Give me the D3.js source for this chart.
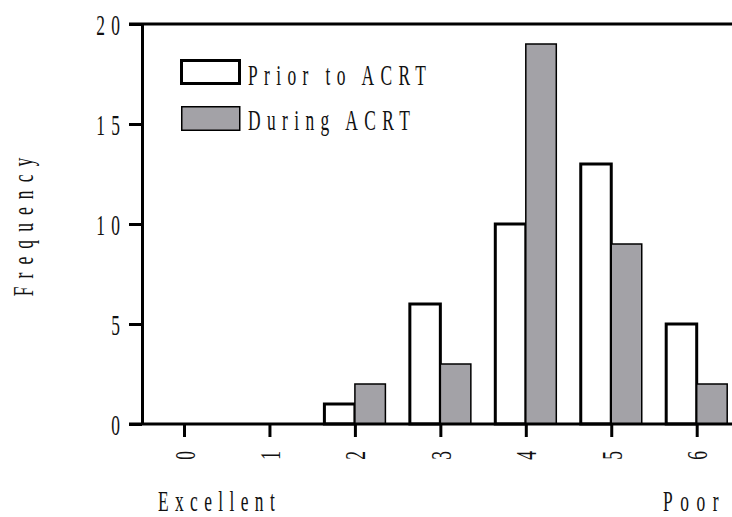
<!DOCTYPE html>
<html>
<head>
<meta charset="utf-8">
<script src="https://cdn.jsdelivr.net/npm/d3@7"></script>
<style>
  body { margin: 0; background: #fff; }
  svg { display: block; }
  text { font-family: "Liberation Serif", "Times New Roman", serif; fill: #111; }
</style>
</head>
<body>
<svg id="chart" width="732" height="517"></svg>
<script>
// scores (0 = excellent .. 6 = poor)
let categories = [0, 1, 2, 3, 4, 5, 6];
let seriesNames = ["Prior to ACRT", "During ACRT"];
let priorValues = [0, 0, 1, 6, 10, 13, 5];
let duringValues = [0, 0, 2, 3, 19, 9, 2];
let yTicks = [0, 5, 10, 15, 20];

let fontSize = 30;
let squeeze = 0.58;   // the original type is a narrow, widely spaced serif
let gap = 11;         // letter spacing in unscaled text units

let svg = d3.select("#chart");

let y = d3.scaleLinear().domain([0, 20]).range([424, 24]);
let x = d3.scalePoint().domain(categories).range([184, 696.7]);
let xs = d3.scaleBand().domain(seriesNames).range([-30.5, 30.5]);

// draws squeezed text; rot = -90 for vertical text
function label(g, str, tx, ty, anchor, rot, ls) {
     ls = ls === undefined ? gap : ls;
     let t = g.append("text")
          .attr("transform", `translate(${tx},${ty}) rotate(${rot || 0}) scale(${squeeze},1)`)
          .attr("text-anchor", anchor)
          .style("font-size", fontSize + "px")
          .style("letter-spacing", ls + "px")
          .text(str);
     if (anchor == "end") t.attr("x", ls);
     if (anchor == "middle") t.attr("x", ls / 2);
     return t;
}

// bars
let data = categories.map((c, i) => ({ cat: c, vals: [priorValues[i], duringValues[i]] }));
let groups = svg.append("g").selectAll("g")
     .data(data)
     .enter().append("g")
     .attr("transform", d => `translate(${x(d.cat)},0)`);

groups.selectAll("rect")
     .data(d => d.vals.map((v, i) => ({ name: seriesNames[i], v: v, i: i })))
     .enter().append("rect")
     .attr("x", d => xs(d.name))
     .attr("width", xs.bandwidth())
     .attr("y", d => y(d.v))
     .attr("height", d => y(0) - y(d.v))
     .attr("fill", d => d.i == 0 ? "#fff" : "#a3a2a7")
     .attr("stroke", "#000")
     .attr("stroke-width", d => d.i == 0 ? 3 : 1.5);

// axes
let yAxis = svg.append("g")
     .attr("transform", "translate(142,0)")
     .call(d3.axisLeft(y).tickValues(yTicks).tickSize(13).tickSizeOuter(0));
yAxis.selectAll("path, line").attr("stroke", "#000").attr("stroke-width", 3);
yAxis.selectAll("text").remove();
yAxis.selectAll(".tick").each(function (d) {
     label(d3.select(this), d, -22, 10, "end");
});

let xAxis = svg.append("g")
     .attr("transform", `translate(0,${y(0)})`)
     .call(d3.axisBottom(x).tickSize(13).tickSizeOuter(0));
xAxis.select(".domain").remove();
xAxis.selectAll("line").attr("stroke", "#000").attr("stroke-width", 3);
xAxis.selectAll("text").remove();
xAxis.selectAll(".tick").each(function (d) {
     label(d3.select(this), d, 10, 27, "end", -90);
});

// frame lines at 0 and 20
svg.append("g").selectAll("line")
     .data([0, 20])
     .enter().append("line")
     .attr("x1", 129).attr("x2", 732)
     .attr("y1", d => y(d)).attr("y2", d => y(d))
     .attr("stroke", "#000").attr("stroke-width", 3);

// legend
let legend = svg.append("g");
legend.append("rect")
     .attr("x", 181.5).attr("y", 60.5).attr("width", 58).attr("height", 23)
     .attr("fill", "#fff").attr("stroke", "#000").attr("stroke-width", 3);
legend.append("rect")
     .attr("x", 181.75).attr("y", 106.75).attr("width", 58).attr("height", 23.5)
     .attr("fill", "#a3a2a7").attr("stroke", "#000").attr("stroke-width", 1.5);
label(legend, seriesNames[0], 248, 85, "start");
label(legend, seriesNames[1], 248, 130, "start");

// axis titles
label(svg, "Frequency", 33, 227, "middle", -90, 14);
label(svg, "Excellent", 158, 511, "start");
label(svg, "Poor", 663, 511, "start", 0, 13);
</script>
</body>
</html>
